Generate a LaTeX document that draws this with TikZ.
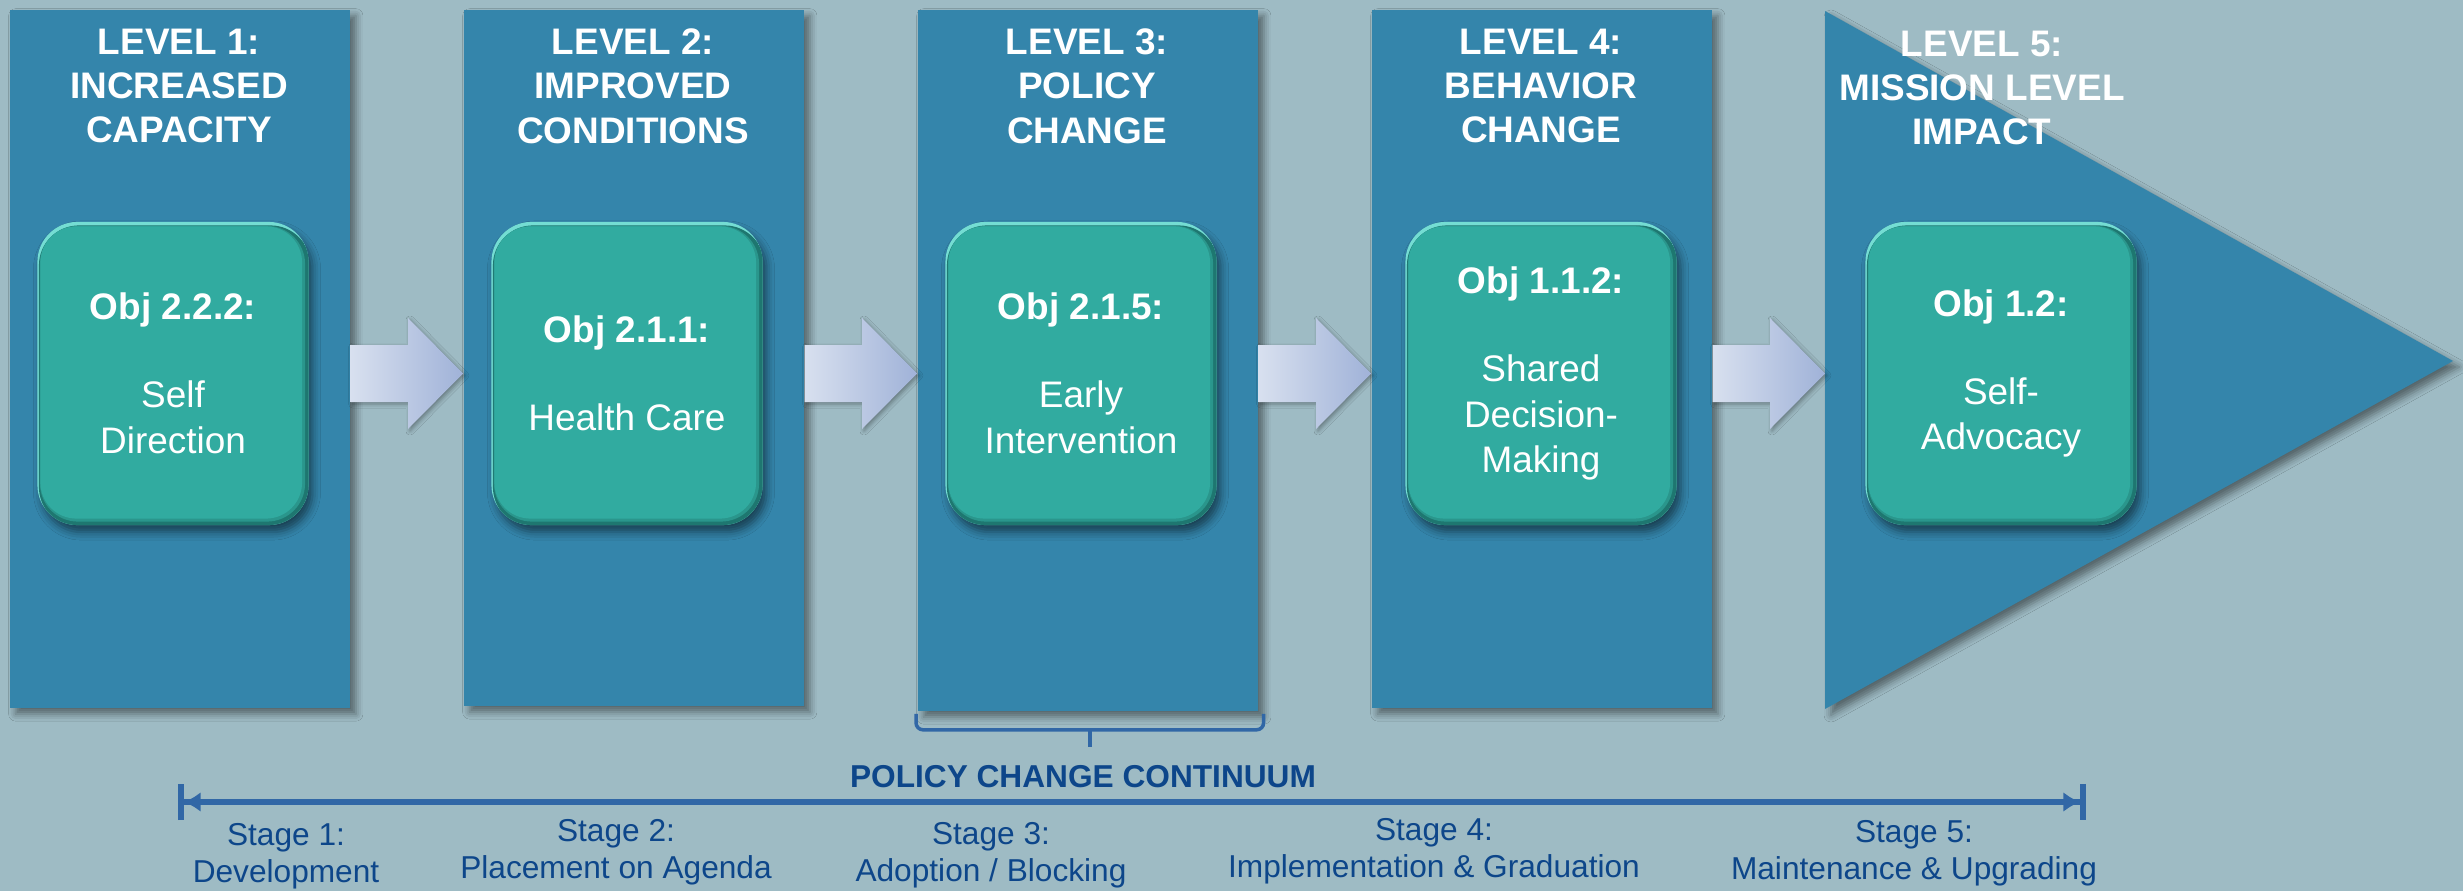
\documentclass[tikz,border=0pt]{standalone}
\usepackage{fontspec}
\setmainfont{Liberation Sans}
\usetikzlibrary{arrows.meta,calc,positioning,shadows.blur}
\definecolor{bgblue}{HTML}{9EBBC4}
\definecolor{panelblue}{HTML}{3485AB}
\definecolor{boxteal}{HTML}{31ABA0}
\definecolor{boxmid}{HTML}{2A968C}
\definecolor{boxdark}{HTML}{1E7770}
\definecolor{boxhi}{HTML}{74DDD3}
\definecolor{arrowL}{HTML}{D8E0EF}
\definecolor{arrowR}{HTML}{A0B2D8}
\definecolor{tlblue}{HTML}{3167A6}
\definecolor{stagetext}{HTML}{0D468A}
\tikzset{
    level/.style={rectangle, fill=panelblue, minimum width=3.4cm, inner sep=0pt, anchor=north west,
        blur shadow={shadow xshift=0.06cm, shadow yshift=-0.06cm, shadow blur radius=0.07cm, shadow opacity=45}},
    heading/.style={align=center, text=white, font=\fontsize{10.5}{12.6}\selectfont\bfseries},
    objbox/.style={rectangle, rounded corners=0.4cm, minimum width=2.71cm, minimum height=3.03cm,
        fill=boxhi, text=white, align=center, font=\fontsize{10.5}{13}\selectfont,
        blur shadow={shadow xshift=0.04cm, shadow yshift=-0.07cm, shadow blur radius=0.08cm, shadow opacity=50},
        path picture={
            \fill[boxdark, rounded corners=0.4cm]
                ([shift={(0.015cm,-0.02cm)}]path picture bounding box.south west) rectangle
                ([shift={(0.02cm,-0.035cm)}]path picture bounding box.north east);
            \fill[boxmid, rounded corners=0.38cm]
                ([shift={(0.025cm,0.035cm)}]path picture bounding box.south west) rectangle
                ([shift={(-0.035cm,-0.04cm)}]path picture bounding box.north east);
            \fill[boxteal, rounded corners=0.36cm]
                ([shift={(0.03cm,0.065cm)}]path picture bounding box.south west) rectangle
                ([shift={(-0.065cm,-0.045cm)}]path picture bounding box.north east);
        }},
    flow/.style={left color=arrowL, right color=arrowR,
        blur shadow={shadow xshift=0.02cm, shadow yshift=-0.02cm, shadow blur radius=0.04cm, shadow opacity=35}},
    brace/.style={draw=tlblue, line width=1pt, rounded corners=2pt},
    timeline/.style={draw=tlblue, line width=1.8pt,
        arrows={Bar[width=0.36cm,line width=1.6pt]Latex[length=0.17cm,width=0.2cm]-Latex[length=0.17cm,width=0.2cm]Bar[width=0.36cm,line width=1.6pt]}},
    stage/.style={align=center, text=stagetext, font=\fontsize{9}{10.5}\selectfont},
}
% block arrow from one panel edge to the next
\newcommand{\flowarrow}[2]{%
    \path[flow] ($(#1 |- axis)+(0,-28.5)$) -- ($(#2 |- axis)+(-55,-28.5)$) -- ++(0,-27)
        -- (#2 |- axis) -- ++(-55,55.5) -- ++(0,-27) -- ($(#1 |- axis)+(0,28.5)$) -- cycle;}

\begin{document}
\begin{tikzpicture}[x=0.01cm, y=-0.01cm]
	\fill[bgblue] (0,0) rectangle (2463,891);
	\useasboundingbox (0,0) rectangle (2463,891);
	\coordinate (axis) at (0,373.5);
	%
	\node[level, minimum height=6.98cm] (lvl1) at (9,9) {};
	\node[level, minimum height=6.96cm] (lvl2) at (463,9) {};
	\node[level, minimum height=7.01cm] (lvl3) at (917,9) {};
	\node[level, minimum height=6.98cm] (lvl4) at (1371,9) {};
	\coordinate (tritop) at (1825,11);
	\coordinate (tribot) at (1825,709);
	\coordinate (tritip) at (2453,361);
	\coordinate (tribase) at (1825,373.5);
	\fill[panelblue, blur shadow={shadow xshift=0.06cm, shadow yshift=-0.06cm, shadow blur radius=0.07cm, shadow opacity=45}]
		(tritop) -- (tritip) -- (tribot) -- cycle;
	%
	\flowarrow{lvl1.east}{lvl2.west}
	\flowarrow{lvl2.east}{lvl3.west}
	\flowarrow{lvl3.east}{lvl4.west}
	\flowarrow{lvl4.east}{tribase}
	%
	\node[heading] (head1) at (179,86) {LEVEL 1:\\INCREASED\\CAPACITY};
	\node[heading] (head2) at (633,86) {LEVEL 2:\\IMPROVED\\CONDITIONS};
	\node[heading] (head3) at (1087,86) {LEVEL 3:\\POLICY\\CHANGE};
	\node[heading] (head4) at (1541,86) {LEVEL 4:\\BEHAVIOR\\CHANGE};
	\node[heading] (head5) at (1982,88) {LEVEL 5:\\MISSION LEVEL\\IMPACT};
	%
	\node[objbox] (obj1) at (173,373.5) {\textbf{Obj 2.2.2:}\\[12pt]Self\\Direction};
	\node[objbox] (obj2) at (627,373.5) {\textbf{Obj 2.1.1:}\\[12pt]Health Care};
	\node[objbox] (obj3) at (1081,373.5) {\textbf{Obj 2.1.5:}\\[12pt]Early\\Intervention};
	\node[objbox] (obj4) at (1541,373.5) {\textbf{Obj 1.1.2:}\\[12pt]Shared\\Decision-\\Making};
	\node[objbox] (obj5) at (2001,373.5) {\textbf{Obj 1.2:}\\[12pt]Self-\\Advocacy};
	%
	\draw[brace] ($(lvl3.south west)+(-1,2)$) -- ++(0,16) -- ($(lvl3.south east)+(5,18)$) -- ++(0,-16);
	\draw[brace] ($(lvl3.south)+(2,18)$) -- ++(0,17);
	\node[text=stagetext, font=\fontsize{9}{10.5}\selectfont\bfseries] (cont) at (1083,777) {POLICY CHANGE CONTINUUM};
	\coordinate (tlL) at (178,802);
	\coordinate (tlR) at (2086,802);
	\draw[timeline] (tlL) -- (tlR);
	%
	\node[stage] (stage1) at (286,856) {Stage 1:\\Development};
	\node[stage] (stage2) at (616,852) {Stage 2:\\Placement on Agenda};
	\node[stage] (stage3) at (991,855) {Stage 3:\\Adoption / Blocking};
	\node[stage] (stage4) at (1434,851) {Stage 4:\\Implementation \& Graduation};
	\node[stage] (stage5) at (1914,853) {Stage 5:\\Maintenance \& Upgrading};
\end{tikzpicture}
\end{document}
